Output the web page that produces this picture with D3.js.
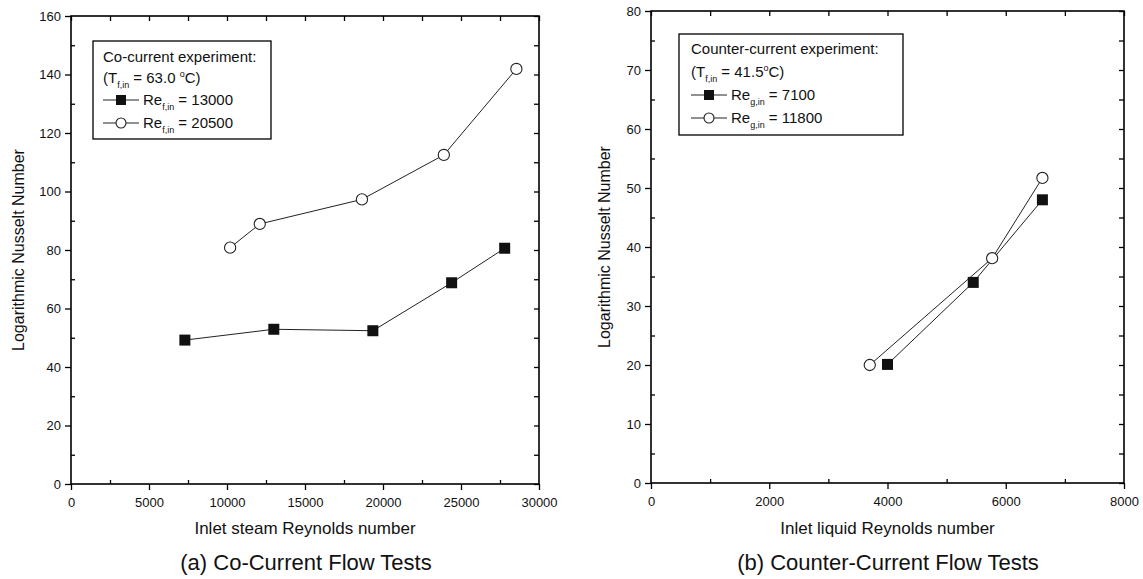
<!DOCTYPE html>
<html>
<head>
<meta charset="utf-8">
<script src="https://cdn.jsdelivr.net/npm/d3@7"></script>
<style>
  html, body { margin: 0; padding: 0; background: #fff; }
  svg { display: block; font-family: "Liberation Sans", Arial, Helvetica, sans-serif; }
</style>
</head>
<body>
<svg id="chart" width="1143" height="579"></svg>
<script>
// ---------- Data ----------
// Panel (a): Co-current flow tests
const coReSteam13000 = [7300, 13000, 19350, 24400, 27800];
const coNu13000      = [49.2, 52.9, 52.4, 68.8, 80.6];
const coReSteam20500 = [10200, 12100, 18650, 23900, 28550];
const coNu20500      = [80.8, 88.9, 97.3, 112.5, 141.9];

// Panel (b): Counter-current flow tests
const ccReLiq7100  = [4000, 5450, 6620];
const ccNu7100     = [20.1, 34.0, 48.0];
const ccReLiq11800 = [3700, 5770, 6620];
const ccNu11800    = [20.0, 38.1, 51.7];

// Tick labels
const aXMajor = [0, 5000, 10000, 15000, 20000, 25000, 30000];
const aYMajor = [0, 20, 40, 60, 80, 100, 120, 140, 160];
const bXMajor = [0, 2000, 4000, 6000, 8000];
const bYMajor = [0, 10, 20, 30, 40, 50, 60, 70, 80];

// Texts
const aXTitle = "Inlet steam Reynolds number";
const bXTitle = "Inlet liquid Reynolds number";
const yTitle = "Logarithmic Nusselt Number";
const aCaption = "(a) Co-Current Flow Tests";
const bCaption = "(b) Counter-Current Flow Tests";

// ---------- Drawing ----------
const svg = d3.select("#chart");
const FONT_TICK = 13;

function panel(cfg) {
  const g = svg.append("g");
  const x = d3.scaleLinear().domain(cfg.xDomain).range([cfg.left, cfg.right]);
  const y = d3.scaleLinear().domain(cfg.yDomain).range([cfg.bottom, cfg.top]);

  const xAll = d3.range(cfg.xDomain[0], cfg.xDomain[1] + 1e-9, cfg.xMinorStep);
  const yAll = d3.range(cfg.yDomain[0], cfg.yDomain[1] + 1e-9, cfg.yMinorStep);
  const xMinor = xAll.filter(v => !cfg.xMajor.includes(v));
  const yMinor = yAll.filter(v => !cfg.yMajor.includes(v));

  function styleAxis(sel) {
    sel.select(".domain").remove();
    sel.selectAll(".tick line").attr("stroke", "#000").attr("stroke-width", 1.3);
    sel.selectAll(".tick text").attr("fill", "#111").style("font-size", FONT_TICK + "px")
      .style("font-family", '"Liberation Sans", Arial, sans-serif');
  }

  // bottom major (outward, labelled)
  g.append("g").attr("transform", `translate(0,${cfg.bottom})`)
    .call(d3.axisBottom(x).tickValues(cfg.xMajor).tickSize(6).tickPadding(8).tickFormat(d3.format("d")))
    .call(styleAxis);
  // bottom minor (inward)
  g.append("g").attr("transform", `translate(0,${cfg.bottom})`)
    .call(d3.axisBottom(x).tickValues(xMinor).tickSize(-4).tickFormat(""))
    .call(styleAxis);
  // left major (outward, labelled)
  g.append("g").attr("transform", `translate(${cfg.left},0)`)
    .call(d3.axisLeft(y).tickValues(cfg.yMajor).tickSize(6).tickPadding(4).tickFormat(d3.format("d")))
    .call(styleAxis);
  // left minor (inward)
  g.append("g").attr("transform", `translate(${cfg.left},0)`)
    .call(d3.axisLeft(y).tickValues(yMinor).tickSize(-4).tickFormat(""))
    .call(styleAxis);
  // top (inward, all)
  g.append("g").attr("transform", `translate(0,${cfg.top})`)
    .call(d3.axisTop(x).tickValues(xAll).tickSize(-5).tickFormat(""))
    .call(styleAxis);
  // right (inward, all)
  g.append("g").attr("transform", `translate(${cfg.right},0)`)
    .call(d3.axisRight(y).tickValues(yAll).tickSize(-5).tickFormat(""))
    .call(styleAxis);

  // frame
  g.append("rect")
    .attr("x", cfg.left).attr("y", cfg.top)
    .attr("width", cfg.right - cfg.left).attr("height", cfg.bottom - cfg.top)
    .attr("fill", "none").attr("stroke", "#000").attr("stroke-width", 1.6);

  // series
  const line = d3.line().x(d => x(d[0])).y(d => y(d[1]));
  cfg.series.forEach(s => {
    const pts = s.xs.map((v, i) => [v, s.ys[i]]);
    g.append("path").datum(pts).attr("d", line)
      .attr("fill", "none").attr("stroke", "#222").attr("stroke-width", 1);
    if (s.type === "square") {
      g.selectAll(null).data(pts).enter().append("rect")
        .attr("x", d => x(d[0]) - 5.5).attr("y", d => y(d[1]) - 5.5)
        .attr("width", 11).attr("height", 11).attr("fill", "#111");
    } else {
      g.selectAll(null).data(pts).enter().append("circle")
        .attr("cx", d => x(d[0])).attr("cy", d => y(d[1])).attr("r", 5.6)
        .attr("fill", "#fff").attr("stroke", "#222").attr("stroke-width", 1.1);
    }
  });

  // axis titles
  g.append("text").attr("x", (cfg.left + cfg.right) / 2).attr("y", 534)
    .attr("text-anchor", "middle").style("font-size", "17px").attr("fill", "#111")
    .text(cfg.xTitle);
  g.append("text")
    .attr("transform", `translate(${cfg.yTitleX},${(cfg.top + cfg.bottom) / 2}) rotate(-90)`)
    .attr("text-anchor", "middle").attr("dy", "0.35em").style("font-size", "16px").attr("fill", "#111")
    .text(yTitle);
  g.append("text").attr("x", cfg.captionX).attr("y", 570)
    .attr("text-anchor", "middle").style("font-size", "22px").attr("fill", "#111")
    .text(cfg.caption);

  // legend
  const L = cfg.legend;
  g.append("rect").attr("x", L.x0).attr("y", L.y0).attr("width", L.x1 - L.x0).attr("height", L.y1 - L.y0)
    .attr("fill", "#fff").attr("stroke", "#000").attr("stroke-width", 1.3);
  const lg = g.append("g").style("font-size", "15px").attr("fill", "#111");
  lg.append("text").attr("x", L.tx).attr("y", L.base[0]).text(L.head);
  const t2 = lg.append("text").attr("x", L.tx).attr("y", L.base[1]);
  t2.append("tspan").text("(T");
  t2.append("tspan").attr("dy", 5).style("font-size", "9px").text("f,in");
  t2.append("tspan").attr("dy", -5).text(L.tempPre);
  t2.append("tspan").attr("dy", -6).style("font-size", "9px").text("o");
  t2.append("tspan").attr("dy", 6).text("C)");
  L.items.forEach((it, i) => {
    const by = L.base[2 + i];
    const cy = by - 5;
    lg.append("line").attr("x1", L.tx).attr("x2", L.tx + L.symW).attr("y1", cy).attr("y2", cy)
      .attr("stroke", "#222").attr("stroke-width", 1);
    const cx = L.tx + L.symW / 2;
    if (it.type === "square") {
      lg.append("rect").attr("x", cx - 5).attr("y", cy - 5).attr("width", 10).attr("height", 10).attr("fill", "#111");
    } else {
      lg.append("circle").attr("cx", cx).attr("cy", cy).attr("r", 5).attr("fill", "#fff")
        .attr("stroke", "#222").attr("stroke-width", 1.1);
    }
    const t = lg.append("text").attr("x", L.tx + L.symW + 4).attr("y", by);
    t.append("tspan").text("Re");
    t.append("tspan").attr("dy", 5).style("font-size", "9px").text(it.sub);
    t.append("tspan").attr("dy", -5).text(" = " + it.val);
  });
}

panel({
  left: 71, right: 539, top: 16, bottom: 484,
  xDomain: [0, 30000], yDomain: [0, 160],
  xMajor: aXMajor, yMajor: aYMajor, xMinorStep: 2500, yMinorStep: 10,
  xTitle: aXTitle, yTitleX: 18, caption: aCaption, captionX: 306,
  series: [
    { xs: coReSteam13000, ys: coNu13000, type: "square" },
    { xs: coReSteam20500, ys: coNu20500, type: "circle" }
  ],
  legend: {
    x0: 93, y0: 41, x1: 271, y1: 139, tx: 103, symW: 36,
    base: [62, 83, 105, 128],
    head: "Co-current experiment:", tempPre: " = 63.0 ",
    items: [{ type: "square", sub: "f,in", val: "13000" }, { type: "circle", sub: "f,in", val: "20500" }]
  }
});

panel({
  left: 651, right: 1124, top: 11, bottom: 483,
  xDomain: [0, 8000], yDomain: [0, 80],
  xMajor: bXMajor, yMajor: bYMajor, xMinorStep: 1000, yMinorStep: 5,
  xTitle: bXTitle, yTitleX: 604, caption: bCaption, captionX: 888,
  series: [
    { xs: ccReLiq7100, ys: ccNu7100, type: "square" },
    { xs: ccReLiq11800, ys: ccNu11800, type: "circle" }
  ],
  legend: {
    x0: 679, y0: 34, x1: 903, y1: 135, tx: 691, symW: 36,
    base: [54, 77, 100, 123],
    head: "Counter-current experiment:", tempPre: "  = 41.5",
    items: [{ type: "square", sub: "g,in", val: "7100" }, { type: "circle", sub: "g,in", val: "11800" }]
  }
});
</script>
</body>
</html>
